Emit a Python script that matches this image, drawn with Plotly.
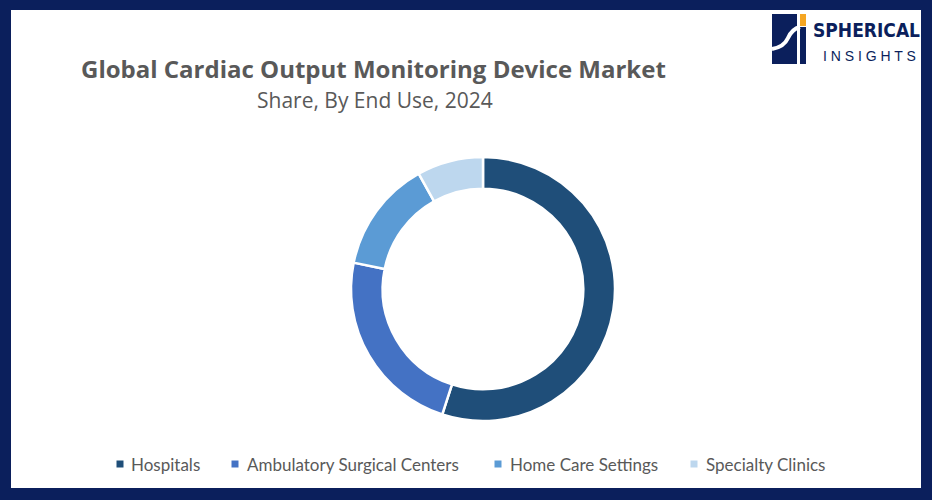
import plotly.graph_objects as go

W, H = 932, 500

categories = ["Hospitals", "Ambulatory Surgical Centers", "Home Care Settings", "Specialty Clinics"]
shares = [55.0, 23.2, 13.7, 8.1]
colors = ["#1F4E79", "#4472C4", "#5B9BD5", "#BDD7EE"]

title_text = "Global Cardiac Output Monitoring Device Market"
subtitle_text = "Share, By End Use, 2024"

# legend layout (pixel positions of marker centres and text starts)
legend_marker_x = [120, 235, 498, 694]
legend_text_x = [129, 245, 508, 704]
legend_y = 464


def px(x):
    return x / W


def py(y):
    return 1 - y / H


fig = go.Figure()
fig.add_trace(go.Pie(
    labels=categories,
    values=shares,
    hole=0.76,
    sort=False,
    direction="clockwise",
    rotation=0,
    marker=dict(colors=colors, line=dict(color="white", width=2.5)),
    textinfo="none",
    hoverinfo="label+percent",
    showlegend=False,
    domain=dict(x=[px(483 - 132), px(483 + 132)], y=[py(289 + 132), py(289 - 132)]),
))

navy = "#0B1F5C"
grey = "#595959"
shapes = [
    dict(type="rect", xref="paper", yref="paper", x0=px(11), x1=px(921), y0=py(488), y1=py(10),
         fillcolor="white", line=dict(width=0), layer="below"),
    # logo icon
    dict(type="rect", xref="paper", yref="paper", x0=px(772), x1=px(797), y0=py(64), y1=py(14),
         fillcolor=navy, line=dict(width=0)),
    dict(type="rect", xref="paper", yref="paper", x0=px(800), x1=px(806), y0=py(26), y1=py(14),
         fillcolor="#F5A623", line=dict(width=0)),
    dict(type="rect", xref="paper", yref="paper", x0=px(800), x1=px(806), y0=py(64), y1=py(27),
         fillcolor=navy, line=dict(width=0)),
    dict(type="path", xref="paper", yref="paper",
         path=f"M {px(772)},{py(49)} Q {px(784)},{py(47)} {px(788)},{py(38)} Q {px(792)},{py(29)} {px(800)},{py(27)}",
         line=dict(color="white", width=4)),
]

annotations = [
    dict(text=f"<b>{title_text}</b>", x=px(373), y=py(68), xref="paper", yref="paper",
         showarrow=False, font=dict(family="Open Sans, sans-serif", size=24, color=grey),
         xanchor="center", yanchor="middle"),
    dict(text=subtitle_text, x=px(375), y=py(100), xref="paper", yref="paper",
         showarrow=False, font=dict(family="Open Sans, sans-serif", size=21, color=grey),
         xanchor="center", yanchor="middle"),
    dict(text="<b>SPHERICAL</b>", x=px(811), y=py(30), xref="paper", yref="paper",
         showarrow=False, font=dict(family="DejaVu Sans Condensed, DejaVu Sans, sans-serif", size=19, color=navy),
         xanchor="left", yanchor="middle"),
    dict(text="I N S I G H T S", x=px(821), y=py(56), xref="paper", yref="paper",
         showarrow=False, font=dict(family="Liberation Sans, Arial, sans-serif", size=14, color=navy),
         xanchor="left", yanchor="middle"),
]

# manual legend built from the category/colour arrays
for name, col, mx, tx in zip(categories, colors, legend_marker_x, legend_text_x):
    shapes.append(dict(type="rect", xref="paper", yref="paper",
                       x0=px(mx - 3.5), x1=px(mx + 3.5), y0=py(legend_y + 3.5), y1=py(legend_y - 3.5),
                       fillcolor=col, line=dict(width=0)))
    annotations.append(dict(text=name, x=px(tx), y=py(legend_y), xref="paper", yref="paper",
                            showarrow=False, xanchor="left", yanchor="middle",
                            font=dict(family="Lato, Open Sans, sans-serif", size=17, color=grey)))

fig.update_layout(
    width=W, height=H,
    margin=dict(l=0, r=0, t=0, b=0),
    paper_bgcolor=navy,
    plot_bgcolor="white",
    shapes=shapes,
    annotations=annotations,
    showlegend=False,
)

fig.write_html("out.html", config={"displayModeBar": False},
               post_script="document.body.style.margin='0';document.body.style.padding='0';")
